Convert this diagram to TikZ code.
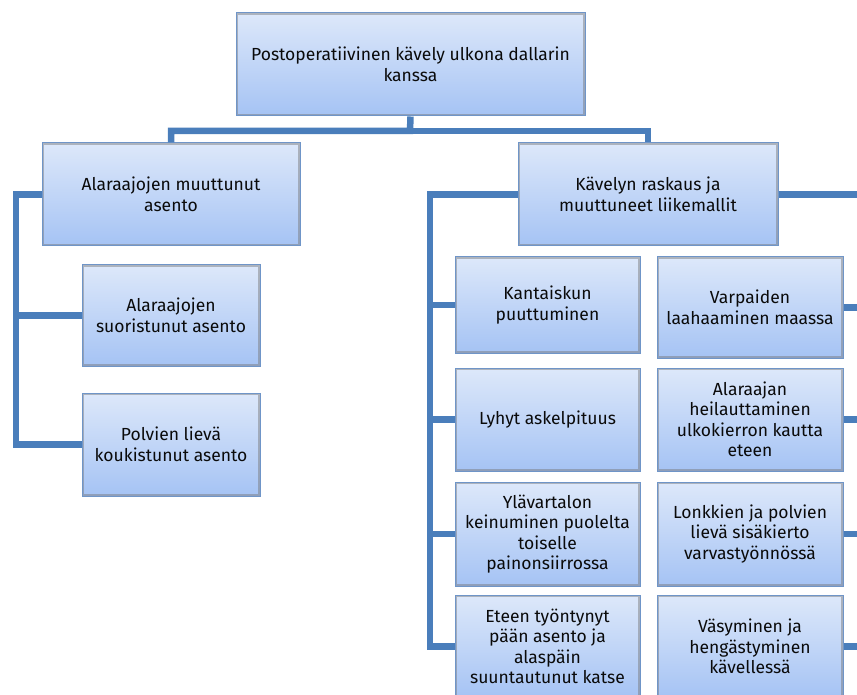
\documentclass[tikz,border=0pt]{standalone}
\usepackage{fontspec}
\setmainfont{Fira Sans}
\usepackage{tikz}
\usetikzlibrary{positioning, calc}
\definecolor{linkblue}{HTML}{4A7EBB}
\definecolor{boxedge}{HTML}{6F95C8}
\definecolor{boxtop}{HTML}{DDE8FA}
\definecolor{boxbot}{HTML}{A5C3F4}
\definecolor{ink}{HTML}{0A0A0A}
\tikzstyle{box}=[rectangle, draw=boxedge, line width=1pt, top color=boxtop, bottom color=boxbot,
  align=center, text=ink, font=\fontsize{17.5}{20.5}\selectfont, inner sep=2pt,
  path picture={\draw[black!55,line width=3.5pt,opacity=0.45] (path picture bounding box.south west) rectangle (path picture bounding box.north east);}]
\tikzstyle{link}=[line width=6.5pt, color=linkblue]

\begin{document}
\begin{tikzpicture}[x=1pt,y=-1pt]
  \useasboundingbox (0,0) rectangle (857,695);
  \clip (0,0) rectangle (857,695);
  % connectors
  \coordinate (bus) at (410,131);
  \coordinate (lbar) at (16,194.5);
  \coordinate (rbar) at (430,194.5);
  \coordinate (redge) at (875,194.5);
  \node[box, minimum width=349pt, minimum height=103pt] (root) at (410.5,64.5) {Postoperatiivinen kävely ulkona dallarin\\kanssa};
  \node[box, minimum width=258pt, minimum height=103pt] (posture) at (171,194.5) {Alaraajojen muuttunut\\asento};
  \node[box, minimum width=260pt, minimum height=103pt] (gait) at (648,194.5) {Kävelyn raskaus ja\\muuttuneet liikemallit};
  \node[box, minimum width=178pt, minimum height=101pt] (straight) at (171,315.5) {Alaraajojen\\suoristunut asento};
  \node[box, minimum width=178pt, minimum height=103pt] (flexed) at (171,444.5) {Polvien lievä\\koukistunut asento};
  \node[box, minimum width=185pt, minimum height=96pt] (heel) at (547.5,305) {Kantaiskun\\puuttuminen};
  \node[box, minimum width=185pt, minimum height=103pt] (step) at (547.5,419.5) {Lyhyt askelpituus};
  \node[box, minimum width=185pt, minimum height=104pt] (sway) at (547.5,534) {Ylävartalon\\keinuminen puolelta\\toiselle\\painonsiirrossa};
  \node[box, minimum width=185pt, minimum height=103pt] (head) at (547.5,646.5) {Eteen työntynyt\\pään asento ja\\alaspäin\\suuntautunut katse};
  \node[box, minimum width=186pt, minimum height=101pt] (toes) at (750,307.5) {Varpaiden\\laahaaminen maassa};
  \node[box, minimum width=186pt, minimum height=103pt] (swing) at (750,419.5) {Alaraajan\\heilauttaminen\\ulkokierron kautta\\eteen};
  \node[box, minimum width=186pt, minimum height=104pt] (rot) at (750,534) {Lonkkien ja polvien\\lievä sisäkierto\\varvastyönnössä};
  \node[box, minimum width=186pt, minimum height=103pt] (tired) at (750,646.5) {Väsyminen ja\\hengästyminen\\kävellessä};
  \draw[link] (root.south) -- (bus) -| (posture.north);
  \draw[link] (bus) -| (gait.north);
  \draw[link] (posture.west) -- (lbar) |- (flexed.west);
  \draw[link] (lbar) |- (straight.west);
  \draw[link] (gait.west) -- (rbar) |- (head.west);
  \draw[link] (rbar) |- (heel.west);
  \draw[link] (rbar) |- (step.west);
  \draw[link] (rbar) |- (sway.west);
  \draw[link] (gait.east) -- (redge);
  \draw[link] (toes.east) -- (toes.east -| redge);
  \draw[link] (swing.east) -- (swing.east -| redge);
  \draw[link] (rot.east) -- (rot.east -| redge);
  \draw[link] (tired.east) -- (tired.east -| redge);
\end{tikzpicture}
\end{document}
